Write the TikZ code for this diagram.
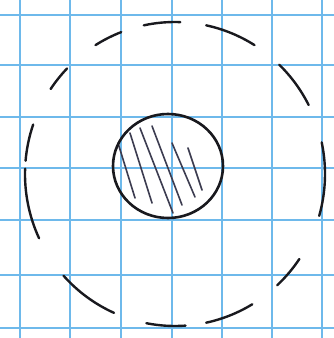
\documentclass[tikz,border=0pt]{standalone}
\usetikzlibrary{calc}

\definecolor{gridblue}{RGB}{110,185,235}
\definecolor{pencil}{RGB}{25,25,30}
\definecolor{hatchgrey}{RGB}{60,60,80}

\begin{document}
\begin{tikzpicture}[
    x=1pt, y=1pt,
    gridline/.style={gridblue, line width=2.4pt},
    outerdash/.style={pencil, line width=2.4pt, line cap=round},
    innerring/.style={pencil, line width=2.6pt},
    hatchline/.style={hatchgrey, line width=1.6pt, line cap=round}
]
\useasboundingbox[fill=white] (0,0) rectangle (334,-338);

% graph paper
\foreach \gx in {20,70,121,172,222,272,322}
  \draw[gridline] (\gx,0) -- (\gx,-338);
\foreach \gy in {15,65,117,168,220,275,328}
  \draw[gridline] (0,-\gy) -- (334,-\gy);

% outer dashed ring
\coordinate (ringc) at (175,-174);
\foreach \a/\b in {111/122, 88/102, 58/78, 27/46, -16/12, -47/-34,
                   -78/-59, -101/-86, -138/-114, 178/205, 161/175, 136/146}
  \draw[outerdash] ($(ringc)+(\a:150pt and 152pt)$)
    arc[start angle=\a, end angle=\b, x radius=150pt, y radius=152pt];

% inner disc with hatching
\coordinate (discc) at (168,-166);
\draw[hatchline] (118,-143) -- (135,-198);
\draw[hatchline] (130,-133) -- (152,-203);
\draw[hatchline] (140,-128) -- (173,-213);
\draw[hatchline] (152,-126) -- (182,-205);
\draw[hatchline] (172,-143) -- (195,-197);
\draw[hatchline] (188,-148) -- (202,-190);
\draw[innerring] (discc) ellipse[x radius=55pt, y radius=52pt];
\end{tikzpicture}
\end{document}
